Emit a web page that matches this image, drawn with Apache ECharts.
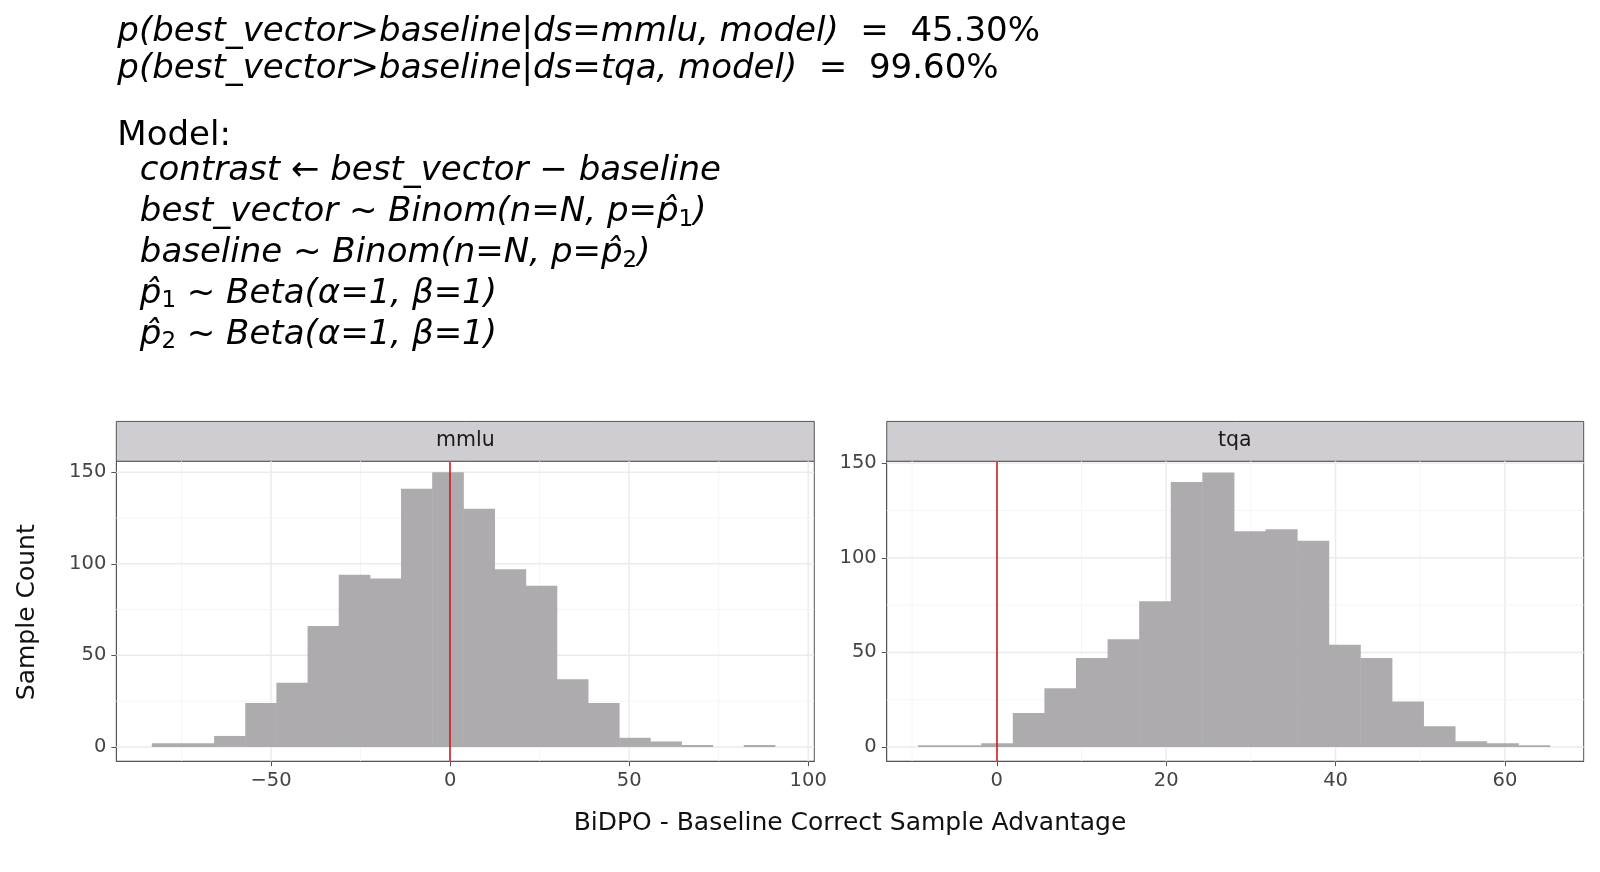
<!DOCTYPE html>
<html>
<head>
<meta charset="utf-8">
<script src="https://cdn.jsdelivr.net/npm/echarts@6/dist/echarts.min.js"></script>
<style>html,body{margin:0;background:#fff}#c{width:1600px;height:872px}</style>
</head>
<body>
<div id="c"></div>
<script>
// histogram bins: [left edge, right edge, count]
const mmluEdges = [-83.3,-74.6,-65.9,-57.2,-48.5,-39.8,-31.1,-22.4,-13.7,-5,3.7,12.4,21.1,29.8,38.5,47.2,55.9,64.6,73.3,82,90.7];
const mmluCounts = [2,2,6,24,35,66,94,92,141,150,130,97,88,37,24,5,3,1,0,1];
const tqaEdges = [-9.3,-5.57,-1.84,1.89,5.62,9.35,13.08,16.81,20.54,24.27,28,31.73,35.46,39.19,42.92,46.65,50.38,54.11,57.84,61.57,65.3];
const tqaCounts = [1,1,2,18,31,47,57,77,140,145,114,115,109,54,47,24,11,3,2,1];
const mmluTicks = [-50, 0, 50, 100];
const tqaTicks = [0, 20, 40, 60];
const yTicks = [0, 50, 100, 150];

const chart = echarts.init(document.getElementById("c"));
const font = "DejaVu Sans";
const S = 1600 / 1568;
const bins = (edges, counts) => counts.map((c, i) => [edges[i], edges[i + 1], c]);

const renderBar = (params, api) => {
  const a = api.coord([api.value(0), api.value(2)]);
  const b = api.coord([api.value(1), 0]);
  return { type: "rect", shape: { x: a[0], y: a[1], width: b[0] - a[0] + 0.5, height: b[1] - a[1] },
    style: { fill: "#adabae" } };
};

const xAxisFor = (idx, min, max, ticks, interval) => ({
  gridIndex: idx, type: "value", min, max, interval,
  axisLine: { onZero: false, lineStyle: { color: "#555" } },
  axisLabel: { fontFamily: font, fontSize: 19.5, color: "#444", margin: 10,
    customValues: ticks, formatter: v => v < 0 ? "\u2212" + Math.abs(v) : v },
  axisTick: { show: true, length: 5, customValues: ticks, lineStyle: { color: "#555" } },
  splitLine: { show: false }
});

const grids = [
  { left: 114 * S, top: 452 * S, width: 684 * S, height: 294 * S },
  { left: 869 * S, top: 452 * S, width: 683 * S, height: 294 * S }
];
const yr = [[-7.8, 156], [-7.5, 151]];
const xr = [[-93.2, 101.7], [-13, 69.3]];

const option = {
  animation: false,
  textStyle: { fontFamily: font },
  grid: grids.map(g => ({ ...g, show: true, borderColor: "#555", borderWidth: 1 })),
  xAxis: [
    xAxisFor(0, xr[0][0], xr[0][1], mmluTicks, 25),
    xAxisFor(1, xr[1][0], xr[1][1], tqaTicks, 10)
  ],
  yAxis: yr.map((r, i) => ({
    gridIndex: i, type: "value", min: r[0], max: r[1],
    axisLine: { show: true, onZero: false, lineStyle: { color: "#555" } },
    axisTick: { show: true, length: 5, customValues: yTicks, lineStyle: { color: "#555" } },
    axisLabel: { fontFamily: font, fontSize: 19.5, color: "#444", customValues: yTicks, margin: 10 },
    splitLine: { show: false }
  })),
  series: [
    ...[0, 1].map(i => ({
      type: "custom", xAxisIndex: i, yAxisIndex: i, z: 1, silent: true,
      data: (i === 0 ? mmluTicks.concat([-75,-25,25,75]) : tqaTicks.concat([-10,10,30,50])).map(v => [v]),
      renderItem: (p, api) => {
        const a = api.coord([api.value(0), yr[i][1]]);
        const b = api.coord([api.value(0), yr[i][0]]);
        const major = (i === 0 ? mmluTicks : tqaTicks).includes(api.value(0));
        return { type: "line", shape: { x1: a[0], y1: a[1], x2: b[0], y2: b[1] },
          style: { stroke: major ? "#ebebeb" : "#f5f5f5", lineWidth: major ? 1.5 : 1 } };
      }
    })),
    ...[0, 1].map(i => ({
      type: "custom", xAxisIndex: i, yAxisIndex: i, z: 1, silent: true,
      data: [0, 25, 50, 75, 100, 125, 150].map(v => [v]),
      renderItem: (p, api) => {
        const a = api.coord([xr[i][0], api.value(0)]);
        const b = api.coord([xr[i][1], api.value(0)]);
        const major = api.value(0) % 50 === 0;
        return { type: "line", shape: { x1: a[0], y1: a[1], x2: b[0], y2: b[1] },
          style: { stroke: major ? "#ebebeb" : "#f5f5f5", lineWidth: major ? 1.5 : 1 } };
      }
    })),
    { type: "custom", xAxisIndex: 0, yAxisIndex: 0, z: 2, data: bins(mmluEdges, mmluCounts), renderItem: renderBar,
      markLine: { symbol: "none", silent: true, label: { show: false }, lineStyle: { color: "#cc1111", type: "solid", width: 1.5 }, data: [{ xAxis: 0 }] } },
    { type: "custom", xAxisIndex: 1, yAxisIndex: 1, z: 2, data: bins(tqaEdges, tqaCounts), renderItem: renderBar,
      markLine: { symbol: "none", silent: true, label: { show: false }, lineStyle: { color: "#cc1111", type: "solid", width: 1.5 }, data: [{ xAxis: 0 }] } }
  ],
  graphic: [
    { type: "rect", shape: { x: 114 * S, y: 413 * S, width: 684 * S, height: 39 * S }, style: { fill: "#d0cdd2", stroke: "#555" } },
    { type: "rect", shape: { x: 869 * S, y: 413 * S, width: 683 * S, height: 39 * S }, style: { fill: "#d0cdd2", stroke: "#555" } },
    { type: "text", x: 456 * S, y: 432 * S, style: { text: "mmlu", font: "20.5px DejaVu Sans", fill: "#1a1a1a", align: "center", verticalAlign: "middle" } },
    { type: "text", x: 1210 * S, y: 432 * S, style: { text: "tqa", font: "20.5px DejaVu Sans", fill: "#1a1a1a", align: "center", verticalAlign: "middle" } },
    { type: "text", x: 833 * S, y: 807 * S, style: { text: "BiDPO - Baseline Correct Sample Advantage", font: "25px DejaVu Sans", fill: "#111", align: "center", verticalAlign: "middle" } },
    { type: "text", x: 27 * S, y: 600 * S, rotation: Math.PI / 2, style: { text: "Sample Count", font: "25px DejaVu Sans", fill: "#111", align: "center", verticalAlign: "middle" } },
    ...[
      [115, 32, "{i|p(best_vector>baseline|ds=mmlu, model)}  =  45.30%"],
      [115, 68, "{i|p(best_vector>baseline|ds=tqa, model)}  =  99.60%"],
      [115, 133, "Model:"],
      [137, 168, "{i|contrast ← best_vector − baseline}"],
      [137, 208, "{i|best_vector ~ Binom(n=N, p=p̂}{s|1}{i|)}"],
      [137, 248, "{i|baseline ~ Binom(n=N, p=p̂}{s|2}{i|)}"],
      [137, 288, "{i|p̂}{s|1}{i| ~ Beta(α=1, β=1)}"],
      [137, 328, "{i|p̂}{s|2}{i| ~ Beta(α=1, β=1)}"]
    ].map(([x, y, t]) => ({
      type: "text", x: x * S, y: y * S,
      style: { text: t, font: "34px DejaVu Sans", fill: "#000", verticalAlign: "middle",
        rich: { i: { fontStyle: "italic", fontSize: 34, fontFamily: font },
                s: { fontSize: 23, fontFamily: font, padding: [15, 0, 0, 0] } } }
    }))
  ]
};
chart.setOption(option);
</script>
</body>
</html>
